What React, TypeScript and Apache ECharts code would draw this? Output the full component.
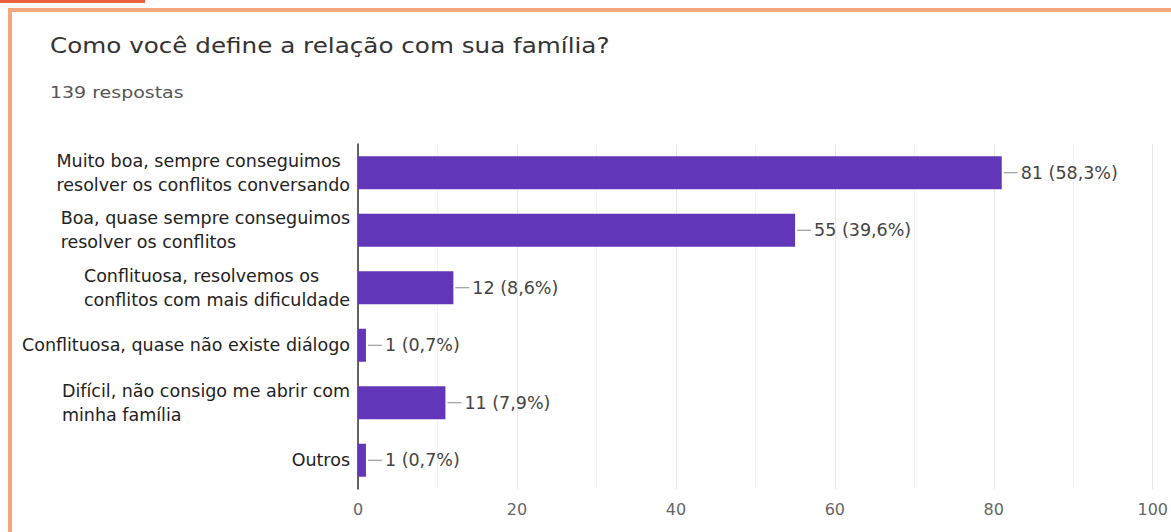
import React, { useEffect, useRef } from 'react';
import * as echarts from 'echarts';

const titleText = 'Como você define a relação com sua família?';
const subtitleText = '139 respostas';
const categories = [
  'Muito boa, sempre conseguimos\nresolver os conflitos conversando',
  'Boa, quase sempre conseguimos\nresolver os conflitos',
  'Conflituosa, resolvemos os\nconflitos com mais dificuldade',
  'Conflituosa, quase não existe diálogo',
  'Difícil, não consigo me abrir com\nminha família',
  'Outros',
];
const counts = [81, 55, 12, 1, 11, 1];
const percents = ['58,3%', '39,6%', '8,6%', '0,7%', '7,9%', '0,7%'];

const FONT = 'DejaVu Sans';

export default function App() {
  const ref = useRef<HTMLDivElement>(null);
  useEffect(() => {
    if (!ref.current) return;
    const chart = echarts.init(ref.current, null, { renderer: 'svg' });
    chart.setOption({
      animation: false,
      backgroundColor: '#ffffff',
      textStyle: { fontFamily: FONT },
      grid: { left: 358, right: 9, top: 144, bottom: 43, containLabel: false },
      xAxis: {
        type: 'value',
        min: 0,
        max: 100,
        interval: 20,
        axisLine: { show: false },
        axisTick: { show: false },
        axisLabel: { color: '#666', fontSize: 16, margin: 12, fontFamily: FONT },
        splitLine: { show: true, lineStyle: { color: '#e8e8e8', width: 1 } },
        minorTick: { show: false, splitNumber: 2 },
        minorSplitLine: { show: true, lineStyle: { color: '#f3f3f3', width: 1 } },
      },
      yAxis: {
        type: 'category',
        inverse: true,
        data: categories,
        axisLine: { show: true, lineStyle: { color: '#333', width: 1.5 } },
        axisTick: { show: false },
        axisLabel: {
          margin: 8,
          formatter: (v: string) =>
            v.split('\n').map((l) => `{a|${l}}`).join('\n'),
          rich: {
            a: { align: 'left', fontSize: 17.5, lineHeight: 24, color: '#222', fontFamily: FONT },
          },
        },
      },
      series: [
        {
          type: 'bar',
          data: counts,
          barWidth: 33,
          itemStyle: { color: '#6236b9' },
          label: {
            show: true,
            position: 'right',
            distance: 2,
            formatter: (p: any) => `{l| }{v|${p.value} (${percents[p.dataIndex]})}`,
            rich: {
              l: { width: 14, height: 1, backgroundColor: '#888', fontSize: 1 },
              v: { color: '#444', fontSize: 17.5, fontFamily: FONT, padding: [0, 0, 0, 3] },
            },
          },
        },
      ],
      graphic: [
        {
          type: 'rect',
          shape: { x: 10, y: 10, width: 1300, height: 700 },
          style: { fill: 'none', stroke: '#f4a77c', lineWidth: 4 },
          z: 100,
        },
        {
          type: 'rect',
          shape: { x: 0, y: 0, width: 145, height: 3 },
          style: { fill: '#e8603c' },
          z: 100,
        },
        {
          type: 'text',
          x: 50,
          y: 45,
          scaleX: 1.12,
          style: {
            text: titleText,
            fontSize: 22,
            fill: '#333',
            fontFamily: FONT,
            verticalAlign: 'middle',
          },
        },
        {
          type: 'text',
          x: 50,
          y: 92,
          scaleX: 1.15,
          style: {
            text: subtitleText,
            fontSize: 16.5,
            fill: '#555',
            fontFamily: FONT,
            verticalAlign: 'middle',
          },
        },
      ],
    });
    return () => chart.dispose();
  }, []);
  return (
    <div
      ref={ref}
      style={{ position: 'absolute', left: 0, top: 0, width: 1171, height: 532 }}
    />
  );
}
